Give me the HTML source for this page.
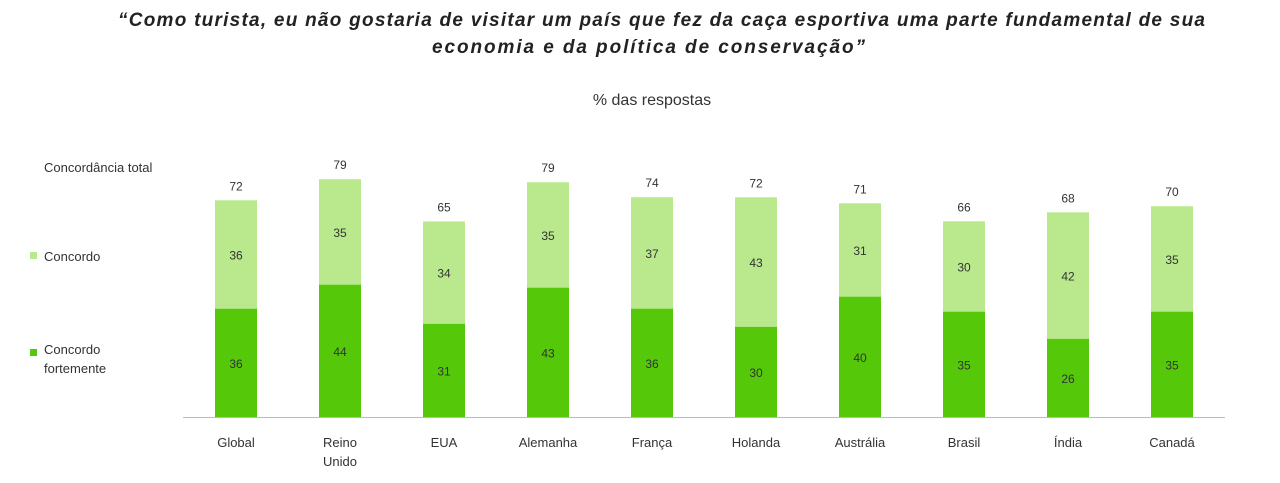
<!DOCTYPE html>
<html><head><meta charset="utf-8"><style>
body{margin:0;background:#fff;}
svg{display:block;font-family:"Liberation Sans",sans-serif;}
</style></head><body>
<svg width="1280" height="483" viewBox="0 0 1280 483" xmlns="http://www.w3.org/2000/svg">
<text x="118" y="26" textLength="1087" lengthAdjust="spacing" font-size="19" font-weight="bold" font-style="italic" fill="#222">“Como turista, eu não gostaria de visitar um país que fez da caça esportiva uma parte fundamental de sua</text>
<text x="432" y="53" textLength="433" lengthAdjust="spacing" font-size="19" font-weight="bold" font-style="italic" fill="#222">economia e da política de conservação”</text>
<text x="652" y="105" text-anchor="middle" font-size="16" fill="#333">% das respostas</text>
<text x="44" y="172" font-size="13" fill="#333">Concordância total</text>
<rect x="30" y="252" width="7" height="7" fill="#b9e98c"/>
<text x="44" y="261" font-size="13" fill="#333">Concordo</text>
<rect x="30" y="349" width="7" height="7" fill="#55c80a"/>
<text x="44" y="354" font-size="13" fill="#333">Concordo</text>
<text x="44" y="373" font-size="13" fill="#333">fortemente</text>
<line x1="183" y1="417.5" x2="1225" y2="417.5" stroke="#bbb" stroke-width="1"/>
<g fill="#55c80a">
<rect x="215" y="308.6" width="42" height="108.4"/>
<rect x="319" y="284.6" width="42" height="132.4"/>
<rect x="423" y="323.7" width="42" height="93.3"/>
<rect x="527" y="287.6" width="42" height="129.4"/>
<rect x="631" y="308.6" width="42" height="108.4"/>
<rect x="735" y="326.7" width="42" height="90.3"/>
<rect x="839" y="296.6" width="42" height="120.4"/>
<rect x="943" y="311.6" width="42" height="105.4"/>
<rect x="1047" y="338.7" width="42" height="78.3"/>
<rect x="1151" y="311.6" width="42" height="105.4"/>
</g>
<g fill="#b9e98c">
<rect x="215" y="200.3" width="42" height="108.4"/>
<rect x="319" y="179.2" width="42" height="105.4"/>
<rect x="423" y="221.4" width="42" height="102.3"/>
<rect x="527" y="182.2" width="42" height="105.4"/>
<rect x="631" y="197.2" width="42" height="111.4"/>
<rect x="735" y="197.3" width="42" height="129.4"/>
<rect x="839" y="203.3" width="42" height="93.3"/>
<rect x="943" y="221.3" width="42" height="90.3"/>
<rect x="1047" y="212.3" width="42" height="126.4"/>
<rect x="1151" y="206.2" width="42" height="105.4"/>
</g>
<g font-size="12" fill="#333" text-anchor="middle">
<text x="236" y="367.8">36</text><text x="236" y="259.5">36</text><text x="236" y="190.3">72</text>
<text x="340" y="355.8">44</text><text x="340" y="236.9">35</text><text x="340" y="169.2">79</text>
<text x="444" y="375.3">31</text><text x="444" y="277.6">34</text><text x="444" y="211.4">65</text>
<text x="548" y="357.3">43</text><text x="548" y="239.9">35</text><text x="548" y="172.2">79</text>
<text x="652" y="367.8">36</text><text x="652" y="257.9">37</text><text x="652" y="187.2">74</text>
<text x="756" y="376.8">30</text><text x="756" y="267">43</text><text x="756" y="187.3">72</text>
<text x="860" y="361.8">40</text><text x="860" y="255">31</text><text x="860" y="193.3">71</text>
<text x="964" y="369.3">35</text><text x="964" y="271.5">30</text><text x="964" y="211.3">66</text>
<text x="1068" y="382.9">26</text><text x="1068" y="280.5">42</text><text x="1068" y="202.3">68</text>
<text x="1172" y="369.3">35</text><text x="1172" y="263.9">35</text><text x="1172" y="196.2">70</text>
</g>
<g font-size="13" fill="#333" text-anchor="middle">
<text x="236" y="447">Global</text>
<text x="340" y="447">Reino</text><text x="340" y="466">Unido</text>
<text x="444" y="447">EUA</text>
<text x="548" y="447">Alemanha</text>
<text x="652" y="447">França</text>
<text x="756" y="447">Holanda</text>
<text x="860" y="447">Austrália</text>
<text x="964" y="447">Brasil</text>
<text x="1068" y="447">Índia</text>
<text x="1172" y="447">Canadá</text>
</g>
</svg>
</body></html>
